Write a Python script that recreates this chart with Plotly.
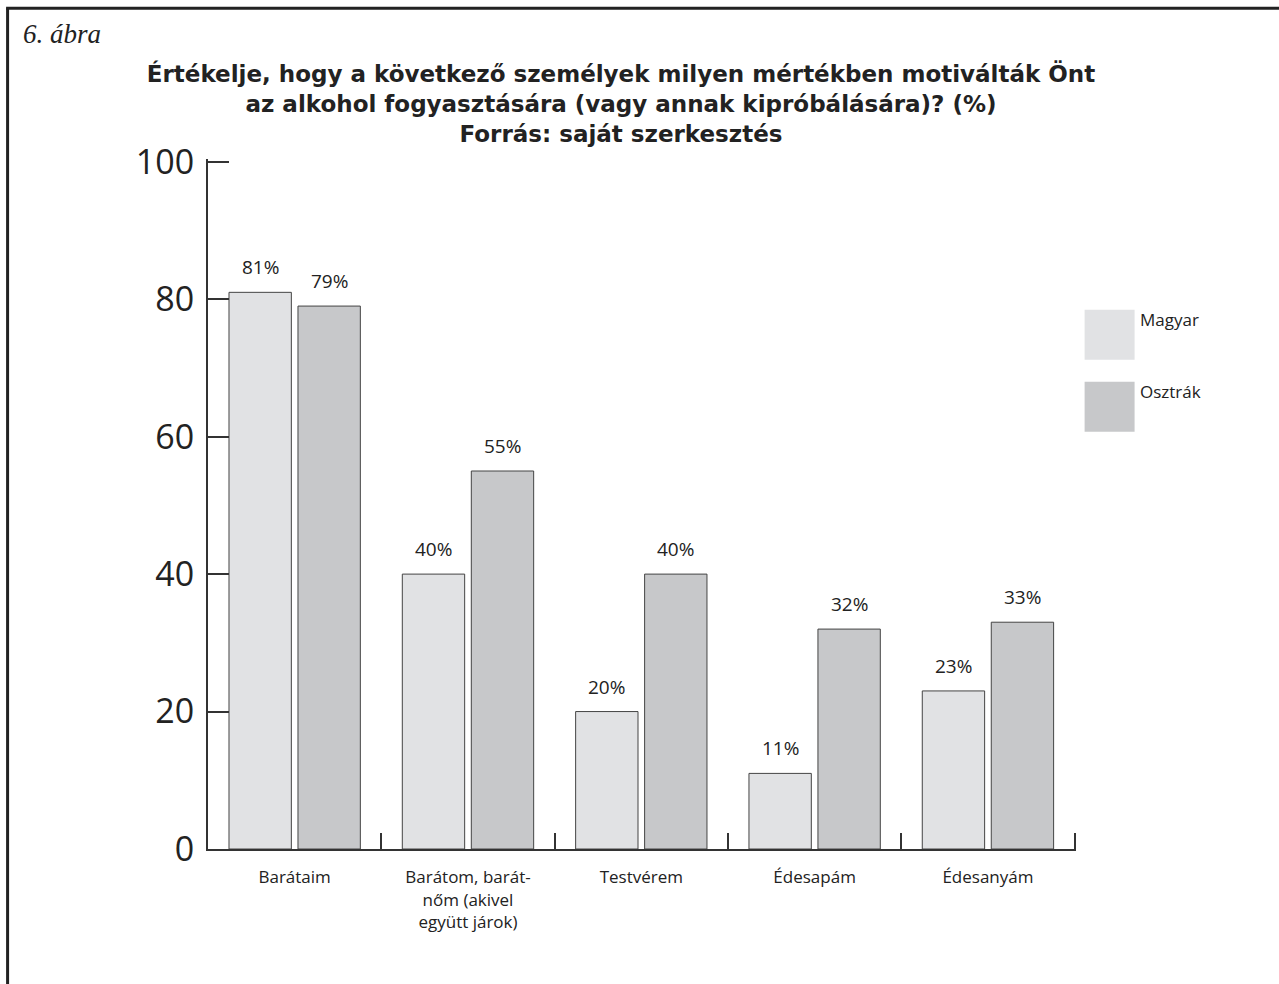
import plotly.graph_objects as go

categories = ["Barátaim", "Barátom, barát-<br>nőm (akivel<br>együtt járok)", "Testvérem", "Édesapám", "Édesanyám"]
magyar = [81, 40, 20, 11, 23]
osztrak = [79, 55, 40, 32, 33]
series_names = ["Magyar", "Osztrák"]
y_ticks = [0, 20, 40, 60, 80, 100]

title_lines = [
    "Értékelje, hogy a következő személyek milyen mértékben motiválták Önt",
    "az alkohol fogyasztására (vagy annak kipróbálására)? (%)",
    "Forrás: saját szerkesztés",
]
figure_label = "6. ábra"

FIG_W, FIG_H = 1279, 984
# pixel geometry of the value range 0..100 and the 5 category slots
X0, CAT_W = 208, 173.4
Y_TOP, Y_BOT = 162, 849
Y_MAX = 100.4          # a hair above 100 so the top tick is drawn
X_MAX = 4.508          # a hair past the last boundary so its tick is drawn
L = X0
R = X0 + CAT_W * (X_MAX + 0.5)
B = Y_BOT
T = Y_BOT - (Y_BOT - Y_TOP) * Y_MAX / 100
W, H = R - L, B - T

def px(x):
    return (x - L) / W

def py(y):
    return (B - y) / H

col_m = "#e1e2e4"
col_o = "#c7c8ca"
edge = "#444444"
ink = "#222222"

fig = go.Figure()
fig.add_trace(go.Bar(x=categories, y=magyar, name=series_names[0],
                     marker=dict(color=col_m, line=dict(color=edge, width=1)),
                     showlegend=False))
fig.add_trace(go.Bar(x=categories, y=osztrak, name=series_names[1],
                     marker=dict(color=col_o, line=dict(color=edge, width=1)),
                     showlegend=False))

bargap = 0.204
bargroupgap = 0.096
slot = CAT_W * (1 - bargap) / 2

annotations = []
for vals, shift in ((magyar, -slot / 2), (osztrak, slot / 2)):
    for c, v in zip(categories, vals):
        annotations.append(dict(x=c, y=v, xref="x", yref="y", text=f"{v}%",
                                showarrow=False, xanchor="center", yanchor="bottom",
                                xshift=shift, yshift=10,
                                font=dict(family="Open Sans", size=19, color=ink)))

# figure label
annotations.append(dict(x=px(21), y=py(34), xref="paper", yref="paper", text=f"<i>{figure_label}</i>",
                        showarrow=False, xanchor="left", yanchor="middle",
                        font=dict(family="Liberation Serif", size=27, color=ink)))

# manual legend with large swatches
shapes = []
leg_tops = [310, 382]
for name, col, top in zip(series_names, [col_m, col_o], leg_tops):
    shapes.append(dict(type="rect", xref="paper", yref="paper",
                       x0=px(1085), x1=px(1135), y0=py(top + 50), y1=py(top),
                       fillcolor=col, line=dict(width=0)))
    annotations.append(dict(x=px(1138), y=py(top - 4), xref="paper", yref="paper", text=name,
                            showarrow=False, xanchor="left", yanchor="top",
                            font=dict(family="Open Sans", size=17, color=ink)))

# outer frame (left and top edges)
shapes.append(dict(type="line", xref="paper", yref="paper",
                   x0=px(7.5), x1=px(7.5), y0=py(8.5), y1=py(FIG_H + 20),
                   line=dict(color=ink, width=3)))
shapes.append(dict(type="line", xref="paper", yref="paper",
                   x0=px(6), x1=px(FIG_W + 20), y0=py(8.5), y1=py(8.5),
                   line=dict(color=ink, width=3)))

fig.update_layout(
    width=FIG_W, height=FIG_H,
    margin=dict(l=L, r=FIG_W - R, t=T, b=FIG_H - B, autoexpand=False),
    paper_bgcolor="white", plot_bgcolor="white",
    barmode="group", bargap=bargap, bargroupgap=bargroupgap,
    title=dict(text="<br>".join(title_lines), x=621 / FIG_W, xanchor="center",
               xref="container", yref="container", y=1 - 82 / FIG_H, yanchor="middle",
               font=dict(family="DejaVu Sans", size=23, color=ink, weight="bold")),
    annotations=annotations, shapes=shapes,
    showlegend=False,
)
fig.update_xaxes(type="category", range=[-0.5, X_MAX], showline=True, linecolor="#333333", linewidth=2,
                 ticks="inside", tickson="boundaries", ticklen=16, tickwidth=1.5, tickcolor="#333333",
                 showgrid=False, zeroline=False, ticklabelstandoff=12,
                 tickfont=dict(family="Open Sans", size=17, color=ink))
fig.update_yaxes(range=[0, Y_MAX], tickvals=y_ticks, showline=True, linecolor="#333333", linewidth=2,
                 ticks="inside", ticklen=21, tickwidth=2, tickcolor="#333333",
                 showgrid=False, zeroline=False, ticklabelstandoff=5,
                 tickfont=dict(family="Open Sans", size=34, color=ink))

fig.write_html("out.html")
